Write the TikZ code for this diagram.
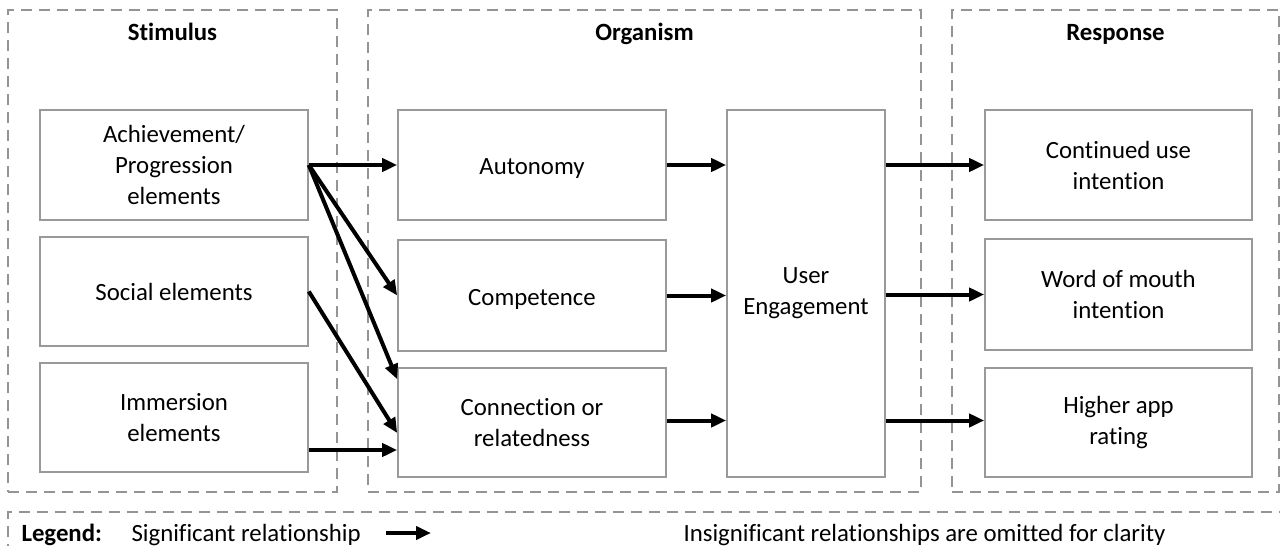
\documentclass[tikz,border=0pt]{standalone}
\usepackage{fontspec}
\setmainfont{Carlito}[Ligatures=NoCommon]
\usetikzlibrary{arrows.meta}

\begin{document}
\begin{tikzpicture}[x=1pt,y=-1pt,
  every node/.style={font=\fontsize{24.8}{31}\selectfont},
  box/.style={draw=black!40, line width=1.6pt, align=center, inner sep=0pt,
    minimum width=268pt, minimum height=110pt},
  lowered/.style={execute at begin node=\rule{0pt}{23pt}},
  group/.style={draw=black!42, line width=1.6pt, dash pattern=on 11pt off 7pt},
  title/.style={font=\fontsize{24.8}{31}\selectfont\bfseries, anchor=base},
  rel/.style={line width=4pt, -{Triangle[length=15pt, width=13pt]}},
]
\useasboundingbox (0,0) rectangle (1280,546);

% frames of the three stages
\node[group, minimum width=329pt, minimum height=482pt] (gS) at (172.5,251) {};
\node[group, minimum width=553pt, minimum height=482pt] (gO) at (644.5,251) {};
\node[group, minimum width=327pt, minimum height=482pt] (gR) at (1115.5,251) {};
\draw[group] (1290,512) -- (8,512) -- (8,560);

\node[title] (tS) at (172.5,40.5) {Stimulus};
\node[title] (tO) at (644.5,40.5) {Organism};
\node[title] (tR) at (1115.5,40.5) {Response};

% stimulus
\node[box] (ach) at (174,165) {Achievement/\\Progression\\elements};
\node[box, minimum height=109pt] (soc) at (174,291.5) {Social elements};
\node[box, minimum height=109pt] (imm) at (174,417.5) {Immersion\\elements};

% organism
\node[box, lowered] (aut) at (532,165) {Autonomy};
\node[box, lowered, minimum height=111pt] (com) at (532,295.5) {Competence};
\node[box, minimum height=109pt] (con) at (532,422.5) {Connection or\\relatedness};
\node[box, minimum width=158pt, minimum height=367pt] (ue) at (806,293.5) {User\\Engagement};

% response
\node[box, minimum width=267pt] (cu) at (1118.5,165) {Continued use\\intention};
\node[box, minimum width=267pt, minimum height=111pt] (wom) at (1118.5,294.5) {Word of mouth\\intention};
\node[box, minimum width=267pt, minimum height=109pt] (har) at (1118.5,422.5) {Higher app\\rating};

% arrow end points that sit off the anchors
\coordinate (conTop) at ([yshift=-12pt]con.north west);
\coordinate (conMid) at ([yshift=-10.5pt]con.west);
\coordinate (immOut) at ([yshift=-32.5pt]imm.east);
\coordinate (conOut) at ([yshift=2pt]con.east);
\coordinate (harIn) at ([yshift=2pt]har.west);

% stimulus -> organism
\draw[rel] (ach.east) -- (aut.west);
\draw[rel] (ach.east) -- (com.west);
\draw[rel] (ach.east) -- (conTop);
\draw[rel] (soc.east) -- (conMid);
\draw[rel] (immOut) -- (con.west |- immOut);

% organism -> engagement
\draw[rel] (aut.east) -- (ue.west |- aut.east);
\draw[rel] (com.east) -- (ue.west |- com.east);
\draw[rel] (conOut) -- (ue.west |- conOut);

% engagement -> response
\draw[rel] (ue.east |- cu.west) -- (cu.west);
\draw[rel] (ue.east |- wom.west) -- (wom.west);
\draw[rel] (ue.east |- harIn) -- (harIn);

% legend
\node[title, anchor=base west] (lg) at (18,541) {Legend:};
\node[anchor=base west] (sig) at (128,541) {Significant relationship};
\coordinate (la) at (386,533);
\coordinate (lb) at (431,533);
\draw[rel] (la) -- (lb);
\node[anchor=base west] (ins) at (680,541) {Insignificant relationships are omitted for clarity};
\end{tikzpicture}
\end{document}
